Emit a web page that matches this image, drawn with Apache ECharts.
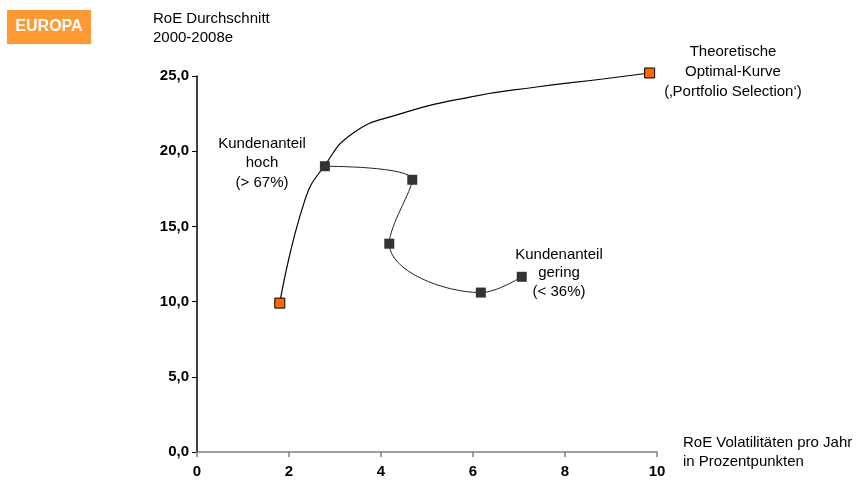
<!DOCTYPE html>
<html><head><meta charset="utf-8">
<script src="https://cdn.jsdelivr.net/npm/echarts@6/dist/echarts.min.js"></script>
<style>html,body{margin:0;padding:0;background:#fff}#c{width:865px;height:483px}</style>
</head><body><div id="c"></div>
<script>
// Theoretical optimal curve (x = volatility, y = RoE); endpoints marked
const optimalX = [1.8, 2.34, 2.78, 3.39, 4.33, 5.93, 7.38, 8.82, 9.84];
const optimalY = [9.9, 16.7, 19.07, 21.2, 22.4, 23.6, 24.27, 24.8, 25.2];
const optimalMarked = [true, false, false, false, false, false, false, false, true];
// Banks ordered by customer share (high -> low)
const banksX = [2.78, 4.68, 4.18, 6.17, 7.06];
const banksY = [19.0, 18.1, 13.85, 10.6, 11.65];
const xTicks = { min: 0, max: 10, interval: 2 };
const yTicks = { min: 0, max: 25, interval: 5 };

const chart = echarts.init(document.getElementById('c'), null, {renderer: 'canvas'});
const FONT = 'Liberation Sans, Arial, sans-serif';
const optData = optimalX.map((x, i) => ({
  value: [x, optimalY[i]],
  symbol: optimalMarked[i] ? 'rect' : 'none',
  symbolSize: 10
}));
const bankData = banksX.map((x, i) => [x, banksY[i]]);

chart.setOption({
  animation: false,
  grid: { left: 197, right: 208, top: 76, bottom: 31, containLabel: false },
  xAxis: {
    type: 'value', min: xTicks.min, max: xTicks.max, interval: xTicks.interval,
    axisLine: { show: true, lineStyle: { color: '#7f7f7f', width: 1.5 } },
    axisTick: { show: true, length: 5, lineStyle: { color: '#7f7f7f', width: 1.5 } },
    splitLine: { show: false },
    axisLabel: { color: '#000', fontFamily: FONT, fontWeight: 'bold', fontSize: 15, margin: 12 }
  },
  yAxis: {
    type: 'value', min: yTicks.min, max: yTicks.max, interval: yTicks.interval,
    axisLine: { show: true, lineStyle: { color: '#000', width: 1.5 } },
    axisTick: { show: true, length: 5, lineStyle: { color: '#000', width: 1 } },
    splitLine: { show: false },
    axisLabel: { color: '#000', fontFamily: FONT, fontWeight: 'bold', fontSize: 15, margin: 8,
      formatter: v => v.toFixed(1).replace('.', ',') }
  },
  series: [
    {
      type: 'line', data: optData, smooth: 0.5, clip: false,
      lineStyle: { color: '#000', width: 1.2 },
      itemStyle: { color: '#FF6600', borderColor: '#000', borderWidth: 1 },
      z: 3
    },
    {
      type: 'line', data: bankData, smooth: 0.4, clip: false,
      symbol: 'rect', symbolSize: 10,
      lineStyle: { color: '#222', width: 1 },
      itemStyle: { color: '#333333', borderWidth: 0 },
      z: 4
    }
  ],
  graphic: [
    { type: 'rect', shape: { x: 7, y: 10, width: 84, height: 34 }, style: { fill: '#FF9933' } },
    { type: 'text', x: 49, y: 27, style: { text: 'EUROPA', fill: '#fff', font: 'bold 16px ' + FONT, textAlign: 'center', textVerticalAlign: 'middle' } },
    { type: 'text', x: 153, y: 10, style: { text: 'RoE Durchschnitt\n2000-2008e', fill: '#000', font: '15px ' + FONT, lineHeight: 18.5 } },
    { type: 'text', x: 683, y: 434, style: { text: 'RoE Volatilitäten pro Jahr\nin Prozentpunkten', fill: '#000', font: '15px ' + FONT, lineHeight: 18.7 } },
    { type: 'text', x: 262, y: 134, style: { text: 'Kundenanteil\nhoch\n(> 67%)', fill: '#000', font: '15px ' + FONT, lineHeight: 19.5, textAlign: 'center' } },
    { type: 'text', x: 559, y: 245.5, style: { text: 'Kundenanteil\ngering\n(< 36%)', fill: '#000', font: '15px ' + FONT, lineHeight: 18.5, textAlign: 'center' } },
    { type: 'text', x: 733, y: 41.7, style: { text: 'Theoretische\nOptimal-Kurve\n(‚Portfolio Selection‘)', fill: '#000', font: '15px ' + FONT, lineHeight: 20, textAlign: 'center' } }
  ]
});
</script></body></html>
